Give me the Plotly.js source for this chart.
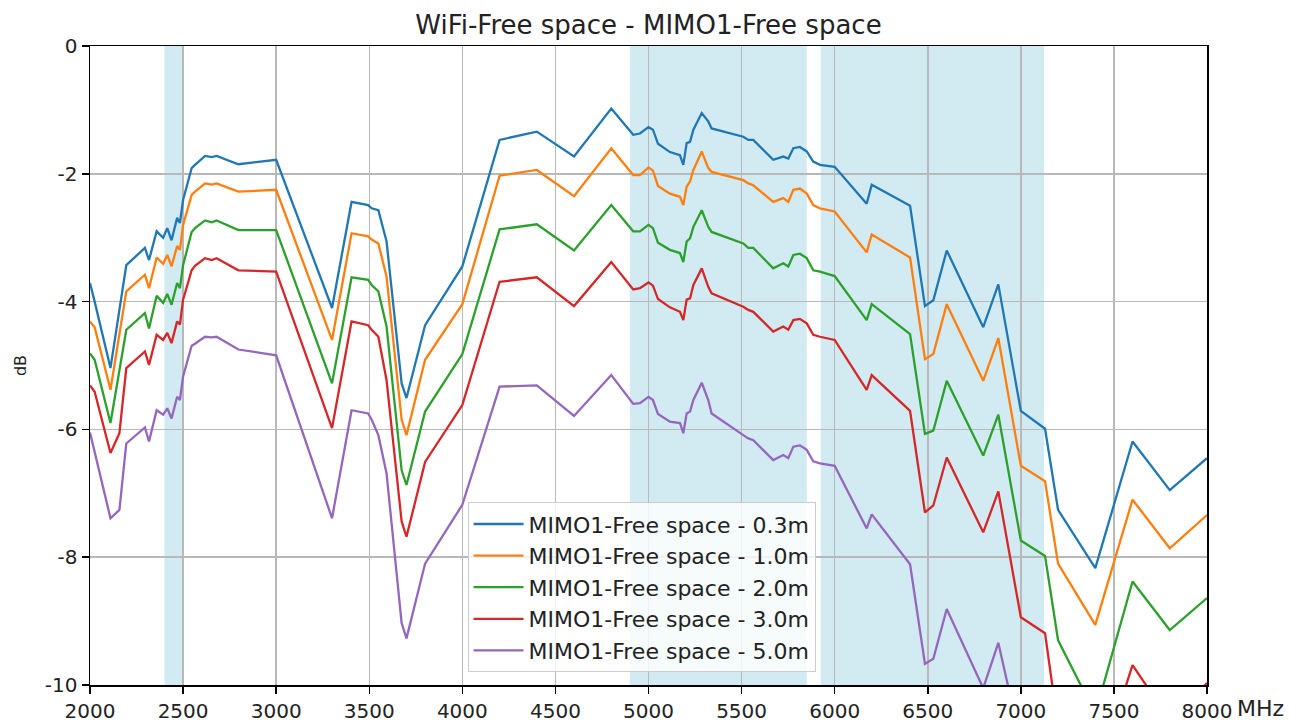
<!DOCTYPE html>
<html>
<head>
<meta charset="utf-8">
<script src="https://cdn.plot.ly/plotly-3.0.1.min.js"></script>
<style>
  html, body { margin: 0; padding: 0; background: #ffffff; }
  #chart { width: 1305px; height: 722px; }
</style>
</head>
<body>
<div id="chart"></div>
<script>
// Frequencies (MHz)
const freq = [2000, 2025, 2110, 2158, 2195, 2295, 2317, 2358, 2393, 2415, 2438, 2468, 2483, 2500, 2546, 2564, 2618, 2654, 2680, 2797,
  3000, 3300, 3405, 3494, 3513, 3549, 3593, 3674, 3700, 3800, 4000, 4200, 4400, 4600, 4800, 4918, 4954, 5000, 5024, 5051,
  5115, 5169, 5187, 5205, 5223, 5241, 5286, 5321, 5339, 5509, 5536, 5563, 5670, 5724, 5751, 5778, 5813, 5850, 5885, 5921,
  6000, 6172, 6199, 6405, 6485, 6530, 6602, 6798, 6879, 7000, 7130, 7200, 7400, 7600, 7800, 8000];

const d03 = [-3.71, -4.00, -5.04, -4.12, -3.43, -3.16, -3.35, -2.90, -3.00, -2.85, -3.04, -2.69, -2.77, -2.41, -1.91, -1.86, -1.72, -1.74, -1.72, -1.85,
  -1.78, -4.10, -2.44, -2.49, -2.54, -2.57, -3.06, -5.28, -5.51, -4.37, -3.45, -1.47, -1.34, -1.73, -0.98, -1.39, -1.37, -1.27, -1.31, -1.53,
  -1.66, -1.71, -1.86, -1.52, -1.50, -1.31, -1.05, -1.18, -1.29, -1.42, -1.47, -1.47, -1.78, -1.73, -1.76, -1.60, -1.58, -1.65, -1.81, -1.86,
  -1.89, -2.47, -2.17, -2.50, -4.07, -3.98, -3.20, -4.40, -3.73, -5.71, -5.99, -7.26, -8.17, -6.19, -6.95, -6.45];

const d10 = [-4.31, -4.40, -5.38, -4.49, -3.84, -3.58, -3.79, -3.31, -3.41, -3.27, -3.45, -3.13, -3.19, -2.80, -2.33, -2.28, -2.15, -2.17, -2.15, -2.28,
  -2.25, -4.60, -2.93, -2.98, -3.03, -3.09, -3.61, -5.85, -6.09, -4.91, -4.04, -2.03, -1.94, -2.35, -1.60, -2.02, -2.02, -1.90, -1.95, -2.19,
  -2.31, -2.36, -2.49, -2.20, -2.12, -1.94, -1.65, -1.91, -1.97, -2.10, -2.15, -2.18, -2.44, -2.38, -2.44, -2.25, -2.23, -2.31, -2.49, -2.54,
  -2.59, -3.23, -2.95, -3.31, -4.90, -4.82, -4.04, -5.24, -4.57, -6.57, -6.81, -8.10, -9.06, -7.10, -7.86, -7.34];

const d20 = [-4.81, -4.91, -5.90, -5.05, -4.44, -4.18, -4.42, -3.91, -4.02, -3.88, -4.05, -3.71, -3.79, -3.43, -2.91, -2.85, -2.73, -2.76, -2.73, -2.88,
  -2.88, -5.28, -3.62, -3.66, -3.74, -3.84, -4.39, -6.64, -6.87, -5.72, -4.82, -2.87, -2.79, -3.20, -2.49, -2.90, -2.90, -2.80, -2.85, -3.08,
  -3.19, -3.24, -3.38, -3.06, -3.01, -2.83, -2.57, -2.83, -2.91, -3.09, -3.16, -3.16, -3.48, -3.40, -3.45, -3.27, -3.25, -3.32, -3.51, -3.53,
  -3.60, -4.29, -4.04, -4.51, -6.07, -6.02, -5.24, -6.41, -5.77, -7.74, -7.98, -9.30, -10.45, -8.38, -9.14, -8.64];

const d30 = [-5.31, -5.41, -6.37, -6.06, -5.04, -4.78, -4.99, -4.52, -4.60, -4.49, -4.65, -4.31, -4.36, -3.97, -3.51, -3.44, -3.32, -3.35, -3.32, -3.51,
  -3.53, -5.98, -4.31, -4.37, -4.44, -4.55, -5.23, -7.44, -7.68, -6.51, -5.62, -3.69, -3.62, -4.07, -3.38, -3.81, -3.79, -3.70, -3.75, -3.96,
  -4.09, -4.16, -4.29, -3.97, -3.95, -3.74, -3.48, -3.77, -3.87, -4.08, -4.13, -4.16, -4.47, -4.39, -4.44, -4.29, -4.27, -4.34, -4.52, -4.55,
  -4.60, -5.38, -5.15, -5.71, -7.30, -7.19, -6.44, -7.61, -6.97, -8.94, -9.19, -10.65, -11.50, -9.69, -10.55, -9.97];

const d50 = [-6.05, -6.35, -7.39, -7.26, -6.22, -5.97, -6.19, -5.70, -5.77, -5.67, -5.83, -5.49, -5.54, -5.17, -4.69, -4.66, -4.55, -4.56, -4.55, -4.75,
  -4.84, -7.39, -5.70, -5.75, -5.85, -6.09, -6.69, -9.03, -9.27, -8.10, -7.18, -5.33, -5.31, -5.79, -5.15, -5.60, -5.59, -5.49, -5.54, -5.76,
  -5.88, -5.90, -6.06, -5.75, -5.72, -5.54, -5.27, -5.54, -5.75, -6.09, -6.14, -6.17, -6.48, -6.40, -6.45, -6.27, -6.25, -6.32, -6.50, -6.53,
  -6.57, -7.55, -7.33, -8.11, -9.67, -9.59, -8.81, -10.05, -9.34, -10.90, -11.30, -12.50, -13.50, -11.60, -12.40, -11.90];

const seriesNames = ["MIMO1-Free space - 0.3m", "MIMO1-Free space - 1.0m", "MIMO1-Free space - 2.0m",
  "MIMO1-Free space - 3.0m", "MIMO1-Free space - 5.0m"];
const seriesData = [d03, d10, d20, d30, d50];
const colors = ["#1f77b4", "#ff7f0e", "#2ca02c", "#d62728", "#9467bd"];

// Highlighted frequency bands (MHz)
const bandStart = [2400, 4900, 5925];
const bandEnd = [2500, 5850, 7125];

const xTickVals = [2000, 2500, 3000, 3500, 4000, 4500, 5000, 5500, 6000, 6500, 7000, 7500, 8000];
const xTickText = ["2000", "2500", "3000", "3500", "4000", "4500", "5000", "5500", "6000", "6500", "7000", "7500", "8000"];
const yTickVals = [0, -2, -4, -6, -8, -10];
const yTickText = ["0", "-2", "-4", "-6", "-8", "-10"];

const traces = seriesData.map((ys, i) => ({
  type: "scatter",
  mode: "lines",
  x: freq,
  y: ys,
  name: seriesNames[i],
  line: { color: colors[i], width: 2.3 }
}));

const shapes = bandStart.map((s, i) => ({
  type: "rect",
  xref: "x", yref: "paper",
  x0: s, x1: bandEnd[i], y0: 0, y1: 1,
  fillcolor: "rgba(173,216,230,0.55)",
  line: { width: 0 },
  layer: "below"
}));

const font = "DejaVu Sans, sans-serif";

const layout = {
  width: 1305, height: 722,
  margin: { l: 90, r: 98, t: 46, b: 37 },
  paper_bgcolor: "#ffffff",
  plot_bgcolor: "#ffffff",
  font: { family: font, color: "#222222", size: 20 },
  title: {
    text: "WiFi-Free space - MIMO1-Free space",
    font: { family: font, size: 26, color: "#222222" },
    x: 0.5, xref: "paper", xanchor: "center",
    y: 0.965, yanchor: "middle"
  },
  showlegend: true,
  legend: {
    x: 0.338, y: 0.02, xanchor: "left", yanchor: "bottom",
    bgcolor: "rgba(255,255,255,0.8)",
    bordercolor: "#cccccc", borderwidth: 1,
    font: { family: font, size: 22, color: "#222222" },
    itemwidth: 50
  },
  xaxis: {
    range: [2000, 8000],
    tickmode: "array", tickvals: xTickVals, ticktext: xTickText,
    showgrid: true, gridcolor: "#b8b8b8", gridwidth: 1.5,
    showline: true, linecolor: "#000000", linewidth: 1.5, mirror: true,
    ticks: "outside", ticklen: 7, tickwidth: 1.5, tickcolor: "#000000",
    tickfont: { family: font, size: 20, color: "#222222" },
    zeroline: false
  },
  yaxis: {
    range: [-10, 0],
    tickmode: "array", tickvals: yTickVals, ticktext: yTickText,
    showgrid: true, gridcolor: "#b8b8b8", gridwidth: 1.5,
    showline: true, linecolor: "#000000", linewidth: 1.5, mirror: true,
    ticks: "outside", ticklen: 7, tickwidth: 1.5, tickcolor: "#000000",
    tickfont: { family: font, size: 20, color: "#222222" },
    zeroline: false,
    title: { text: "dB", font: { family: font, size: 16, color: "#222222" }, standoff: 14 }
  },
  shapes: shapes,
  annotations: [{
    text: "MHz", xref: "paper", yref: "paper",
    x: 1.025, y: -0.036, xanchor: "left", yanchor: "middle",
    showarrow: false,
    font: { family: font, size: 22, color: "#222222" }
  }]
};

Plotly.newPlot("chart", traces, layout, { displayModeBar: false, staticPlot: true });
</script>
</body>
</html>
